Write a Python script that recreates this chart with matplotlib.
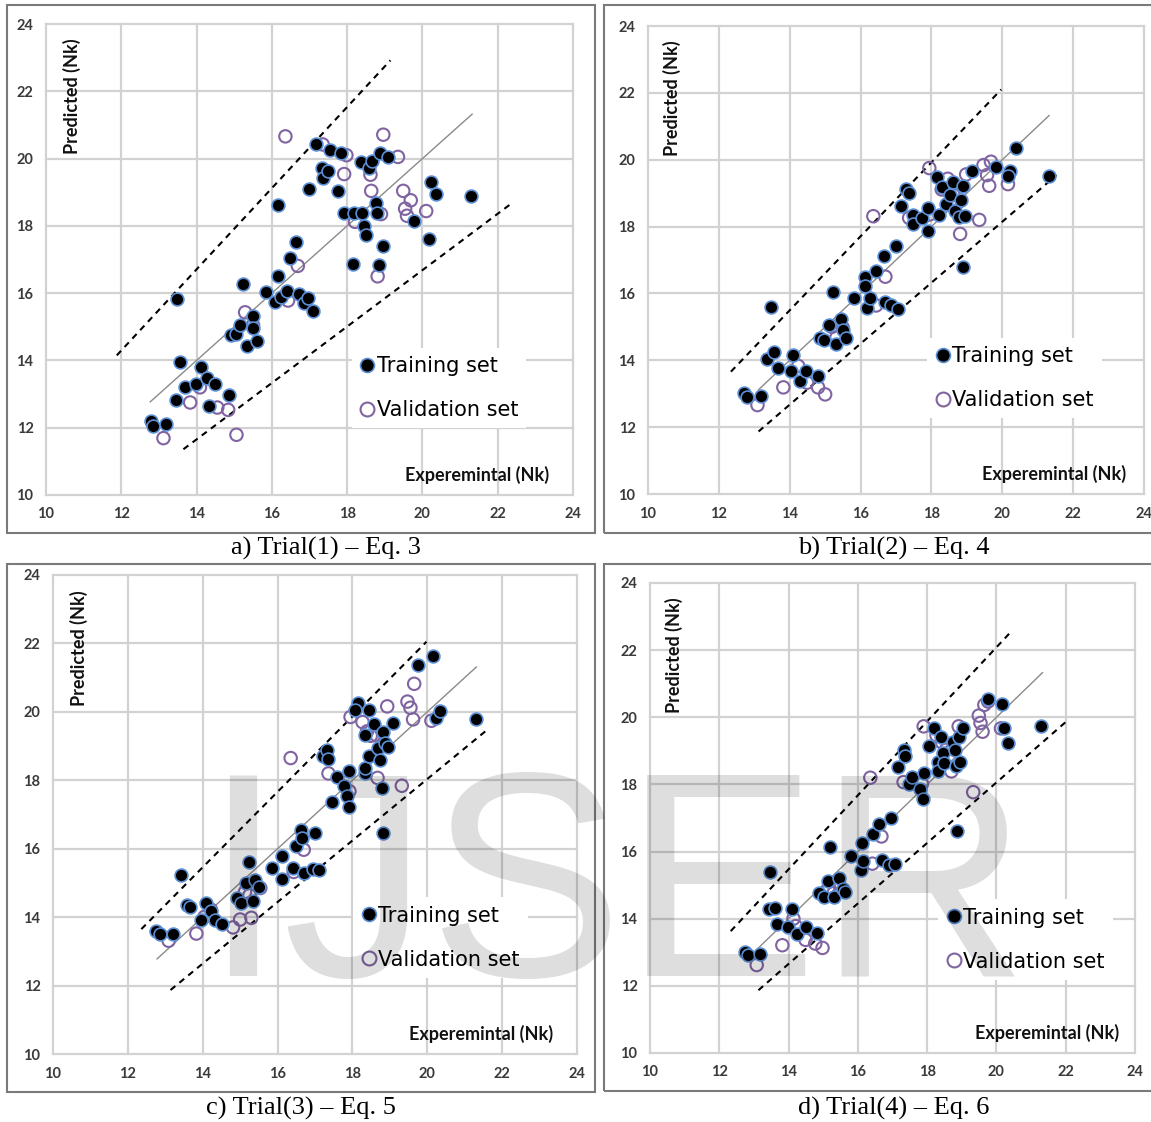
import matplotlib
matplotlib.use("Agg")
import matplotlib.pyplot as plt
from matplotlib.lines import Line2D
from matplotlib.patches import Rectangle

W, H = 1151, 1122

# ---------------- data ----------------
# Trial 1
a_train_x = [12.78, 12.85, 13.2, 13.45, 13.48, 13.57, 13.7, 13.99, 14.12, 14.28, 14.33, 14.5, 14.87, 14.92,
             15.06, 15.16, 15.23, 15.33, 15.5, 15.5, 15.6, 15.84, 16.09, 16.16, 16.16, 16.23, 16.4, 16.48,
             16.65, 16.72, 16.86, 16.96, 17.0, 17.08, 17.18, 17.33, 17.35, 17.5, 17.55, 17.76, 17.84, 17.92,
             18.15, 18.18, 18.37, 18.4, 18.44, 18.5, 18.57, 18.67, 18.76, 18.79, 18.84, 18.86, 18.96, 19.08,
             19.77, 20.18, 20.22, 20.37, 21.3]
a_train_y = [12.2, 12.04, 12.1, 12.83, 15.83, 13.95, 13.2, 13.3, 13.8, 13.49, 12.64, 13.31, 12.96, 14.76,
             14.8, 15.06, 16.28, 14.42, 15.33, 14.96, 14.58, 16.04, 15.75, 16.5, 18.62, 15.88, 16.07, 17.03,
             17.52, 15.96, 15.72, 15.86, 19.1, 15.46, 20.42, 19.73, 19.41, 19.63, 20.26, 19.04, 20.18, 18.37,
             16.87, 18.37, 19.89, 18.37, 18.01, 17.72, 19.73, 19.94, 18.69, 18.37, 16.83, 20.18, 17.4, 20.05,
             18.14, 17.61, 19.31, 18.94, 18.9]
a_valid_x = [13.12, 13.83, 14.09, 14.55, 14.84, 15.06, 15.29, 15.5, 16.36, 16.43, 16.69, 17.35, 17.92,
             17.98, 18.21, 18.62, 18.64, 18.81, 18.96, 19.35, 19.49, 19.54, 19.59, 19.69, 20.1, 18.9]
a_valid_y = [11.69, 12.75, 13.2, 12.6, 12.53, 11.79, 15.43, 15.05, 20.66, 15.78, 16.81, 20.42, 19.54,
             20.1, 18.12, 19.52, 19.04, 16.5, 20.71, 20.05, 19.04, 18.51, 18.3, 18.76, 18.44, 18.35]

# Trial 2
b_train_x = [12.72, 12.8, 13.2, 13.48, 13.37, 13.56, 13.66, 14.03, 14.1, 14.28, 14.47, 14.8, 14.86, 14.98,
             15.12, 15.21, 15.32, 15.45, 15.5, 15.6, 15.82, 16.13, 16.13, 16.18, 16.28, 16.44, 16.65, 16.7,
             16.85, 16.99, 17.06, 17.14, 17.29, 17.37, 17.48, 17.48, 17.74, 17.89, 17.91, 18.15, 18.2, 18.31,
             18.41, 18.52, 18.62, 18.67, 18.77, 18.83, 18.88, 18.88, 18.95, 19.14, 19.81, 20.23, 20.38,
             21.32, 20.16]
b_train_y = [13.03, 12.9, 12.94, 15.59, 14.04, 14.26, 13.78, 13.67, 14.17, 13.37, 13.67, 13.53, 14.68, 14.6,
             15.06, 16.04, 14.5, 15.24, 14.9, 14.68, 15.86, 16.5, 16.23, 15.57, 15.86, 16.66, 17.11, 15.75,
             15.64, 17.43, 15.54, 18.63, 19.13, 19.0, 18.36, 18.07, 18.26, 18.56, 17.88, 19.49, 18.36, 19.17,
             18.69, 18.95, 19.33, 18.47, 18.28, 18.79, 19.22, 16.79, 18.31, 19.65, 19.77, 19.67, 20.34,
             19.52, 19.52]
b_valid_x = [13.09, 13.82, 14.24, 14.49, 14.8, 15.0, 15.19, 15.32, 15.5, 16.36, 16.44, 16.7, 17.37, 17.94,
             17.94, 18.29, 18.46, 18.62, 18.72, 18.81, 18.98, 19.35, 19.47, 19.57, 19.63, 19.68, 20.16]
b_valid_y = [12.66, 13.19, 13.83, 13.33, 13.19, 12.98, 15.0, 14.68, 14.97, 18.31, 15.64, 16.5, 18.26, 19.75,
             18.36, 19.11, 19.43, 18.95, 18.69, 17.78, 19.56, 18.2, 19.84, 19.54, 19.22, 19.94, 19.27]

# Trial 3
c_train_x = [12.75, 12.85, 13.21, 13.43, 13.58, 13.66, 13.95, 14.09, 14.22, 14.32, 14.51, 14.91, 15.01,
             15.23, 15.15, 15.35, 15.4, 15.5, 15.84, 16.11, 16.13, 16.41, 16.48, 16.62, 16.64, 16.7, 16.94,
             17.0, 17.1, 17.21, 17.31, 17.36, 17.46, 17.59, 17.78, 17.85, 17.9, 17.92, 18.15, 18.08, 18.34,
             18.34, 18.34, 18.44, 18.44, 18.57, 18.69, 18.73, 18.78, 18.83, 18.83, 18.88, 18.96, 19.08,
             19.76, 20.16, 20.24, 20.35, 21.31]
c_train_y = [13.59, 13.51, 13.52, 15.24, 14.36, 14.29, 13.91, 14.4, 14.17, 13.93, 13.8, 14.57, 14.4,
             15.61, 14.99, 14.48, 15.08, 14.88, 15.45, 15.11, 15.79, 15.45, 16.08, 16.56, 16.32, 15.3, 15.4,
             16.47, 15.37, 18.7, 18.88, 18.62, 17.36, 18.1, 17.82, 17.54, 17.23, 18.26, 20.27, 20.06, 18.2,
             18.36, 19.32, 20.04, 18.7, 19.64, 18.94, 18.59, 17.78, 19.41, 16.45, 19.09, 18.97, 19.67,
             21.38, 21.63, 19.81, 20.02, 19.78]
c_valid_x = [13.09, 13.83, 14.05, 14.22, 14.81, 15.0, 15.3, 15.13, 15.25, 15.54, 16.35, 16.43, 16.7, 17.36,
             17.92, 17.95, 18.27, 18.39, 18.49, 18.64, 18.67, 18.83, 18.93, 19.32, 19.47, 19.55, 19.62,
             19.65, 20.11]
c_valid_y = [13.31, 13.52, 14.01, 14.22, 13.7, 13.93, 13.98, 14.74, 14.64, 14.85, 18.65, 15.32, 15.97, 18.2,
             17.68, 19.85, 19.7, 19.43, 19.3, 19.32, 18.07, 19.09, 20.16, 17.84, 20.3, 20.12, 19.78,
             20.82, 19.74]

# Trial 4
d_train_x = [12.73, 12.83, 13.18, 13.45, 13.43, 13.61, 13.66, 13.98, 14.1, 14.24, 14.49, 14.83, 14.88,
             15.02, 15.14, 15.2, 15.3, 15.46, 15.57, 15.62, 15.8, 16.08, 16.12, 16.15, 16.44, 16.61, 16.71,
             16.89, 16.97, 17.07, 17.16, 17.32, 17.35, 17.48, 17.56, 17.79, 17.88, 17.9, 18.06, 18.2, 18.32,
             18.32, 18.41, 18.45, 18.48, 18.75, 18.8, 18.83, 18.85, 18.91, 18.94, 19.04, 19.76, 20.15,
             20.21, 20.34, 21.29]
d_train_y = [13.0, 12.91, 12.94, 15.4, 14.28, 14.33, 13.85, 13.74, 14.28, 13.53, 13.74, 13.58, 14.78,
             14.65, 15.13, 16.15, 14.65, 15.21, 14.89, 14.81, 15.88, 15.45, 16.25, 15.72, 16.52, 16.81, 15.74,
             15.59, 17.0, 15.63, 18.52, 19.03, 18.84, 18.02, 18.23, 17.86, 17.56, 18.34, 19.14, 19.69, 18.66,
             18.39, 19.41, 18.93, 18.63, 19.25, 19.03, 18.55, 16.6, 19.41, 18.66, 19.67, 20.53, 20.39,
             19.69, 19.22, 19.73]
d_valid_x = [13.08, 13.82, 14.14, 14.21, 14.49, 14.77, 14.98, 15.16, 15.3, 15.46, 16.36, 16.42, 16.68,
             17.32, 17.85, 17.9, 18.27, 18.43, 18.54, 18.7, 18.91, 19.33, 19.49, 19.54, 19.6, 19.65, 19.76,
             20.13]
d_valid_y = [12.62, 13.21, 14.0, 13.78, 13.37, 13.26, 13.13, 14.95, 14.76, 15.03, 18.2, 15.64, 16.45,
             18.07, 18.02, 19.73, 19.46, 19.25, 19.03, 18.39, 19.73, 17.77, 20.05, 19.83, 19.57, 20.37, 20.47,
             19.67]

# reference lines: (x0, y0, x1, y1)
a_fit = (12.77, 12.77, 21.32, 21.32)
a_upper = (11.88, 14.15, 19.15, 22.92)
a_lower = (13.65, 11.36, 22.37, 18.67)
b_fit = (13.12, 13.12, 21.32, 21.32)
b_upper = (12.34, 13.66, 19.97, 22.1)
b_lower = (13.12, 11.87, 21.53, 19.54)
c_fit = (12.78, 12.78, 21.31, 21.31)
c_upper = (12.36, 13.65, 19.98, 22.05)
c_lower = (13.14, 11.87, 21.55, 19.43)
d_fit = (13.11, 13.11, 21.33, 21.33)
d_upper = (12.33, 13.63, 20.45, 22.58)
d_lower = (13.13, 11.87, 22.09, 19.94)

captions = ["a) Trial(1) \u2013 Eq. 3", "b) Trial(2) \u2013 Eq. 4",
            "c) Trial(3) \u2013 Eq. 5", "d) Trial(4) \u2013 Eq. 6"]
ticks = [10, 12, 14, 16, 18, 20, 22, 24]

# ---------------- layout (pixels) ----------------
panels = [
    dict(tx=a_train_x, ty=a_train_y, vx=a_valid_x, vy=a_valid_y, fit=a_fit, up=a_upper, lo=a_lower,
         ax=(46, 24, 573, 495), frame=(7, 5, 595, 533), cap=(326, 548), leg=(0.56, 0.335)),
    dict(tx=b_train_x, ty=b_train_y, vx=b_valid_x, vy=b_valid_y, fit=b_fit, up=b_upper, lo=b_lower,
         ax=(648, 26, 1144, 494), frame=(604, 5, 1170, 533), cap=(894, 548), leg=(0.542, 0.356)),
    dict(tx=c_train_x, ty=c_train_y, vx=c_valid_x, vy=c_valid_y, fit=c_fit, up=c_upper, lo=c_lower,
         ax=(53, 575, 577, 1054), frame=(7, 564, 595, 1092), cap=(301, 1108), leg=(0.553, 0.349)),
    dict(tx=d_train_x, ty=d_train_y, vx=d_valid_x, vy=d_valid_y, fit=d_fit, up=d_upper, lo=d_lower,
         ax=(650, 583, 1135, 1053), frame=(604, 564, 1170, 1091), cap=(894, 1108), leg=(0.573, 0.349)),
]

train_face = "black"
train_edge = "#5a8fd6"
valid_edge = "#8064a2"

fig = plt.figure(figsize=(W / 100, H / 100), dpi=100)
fig.patch.set_facecolor("white")

for i, p in enumerate(panels):
    x0, y0, x1, y1 = p["ax"]
    ax = fig.add_axes([x0 / W, 1 - y1 / H, (x1 - x0) / W, (y1 - y0) / H])
    ax.set_xlim(10, 24)
    ax.set_ylim(10, 24)
    ax.set_xticks(ticks)
    ax.set_yticks(ticks)
    for s in ax.spines.values():
        s.set_visible(False)
    ax.grid(True, color="#d2d2d2", lw=1.6)
    ax.set_axisbelow(True)
    for gl in ax.get_xgridlines() + ax.get_ygridlines():
        gl.set_clip_on(False)
    ax.tick_params(length=0, labelsize=10.5, labelcolor="#3a3a3a", pad=9)
    for lab in ax.get_xticklabels() + ax.get_yticklabels():
        lab.set_family("Lato")
        lab.set_fontweight("bold")

    fx0, fy0, fx1, fy1 = p["fit"]
    ax.plot([fx0, fx1], [fy0, fy1], color="#8a8a8a", lw=1.0, zorder=2)
    for key in ("up", "lo"):
        lx0, ly0, lx1, ly1 = p[key]
        ax.plot([lx0, lx1], [ly0, ly1], color="black", lw=1.5, ls=(0, (3, 2.5)), zorder=2)

    ax.scatter(p["vx"], p["vy"], s=80, facecolors="none", edgecolors=valid_edge, linewidths=1.5, zorder=3)
    ax.scatter(p["tx"], p["ty"], s=85, facecolors=train_face, edgecolors=train_edge, linewidths=1.2, zorder=4)

    ax.text(10.68, 21.85, "Predicted (Nk)", rotation=90, ha="center", va="center",
            fontsize=13, fontweight="bold", family="Lato", color="#111111")
    ax.text(21.45, 10.6, "Experemintal (Nk)", ha="center", va="center",
            fontsize=13, fontweight="bold", family="Lato", color="#111111")

    handles = [Line2D([], [], ls="none", marker="o", markersize=10, markerfacecolor=train_face,
                      markeredgecolor=train_edge, markeredgewidth=1.2),
               Line2D([], [], ls="none", marker="o", markersize=10, markerfacecolor="none",
                      markeredgecolor=valid_edge, markeredgewidth=1.5)]
    leg = ax.legend(handles, ["Training set", "Validation set"], loc="upper left",
                    bbox_to_anchor=p["leg"], frameon=True, fancybox=False, framealpha=1,
                    facecolor="white", edgecolor="none", handlelength=0.7, handletextpad=0.1,
                    labelspacing=1.15, borderpad=0.4, prop=dict(family="DejaVu Sans", size=15))
    leg.set_zorder(5)

    rx0, ry0, rx1, ry1 = p["frame"]
    fig.add_artist(Rectangle((rx0 / W, 1 - ry1 / H), (rx1 - rx0) / W, (ry1 - ry0) / H,
                             transform=fig.transFigure, fill=False, ec="#7a7a7a", lw=1.5))
    cx, cy = p["cap"]
    fig.text(cx / W, 1 - cy / H, captions[i], ha="center", va="center",
             family="Liberation Serif", fontsize=19, color="black")

# watermark
fig.text(615 / W, 1 - 976 / H, "IJSER", ha="center", va="baseline", family="Liberation Sans",
         fontsize=210, color="black", alpha=0.13, zorder=20)

fig.savefig("out.png", dpi=100)
